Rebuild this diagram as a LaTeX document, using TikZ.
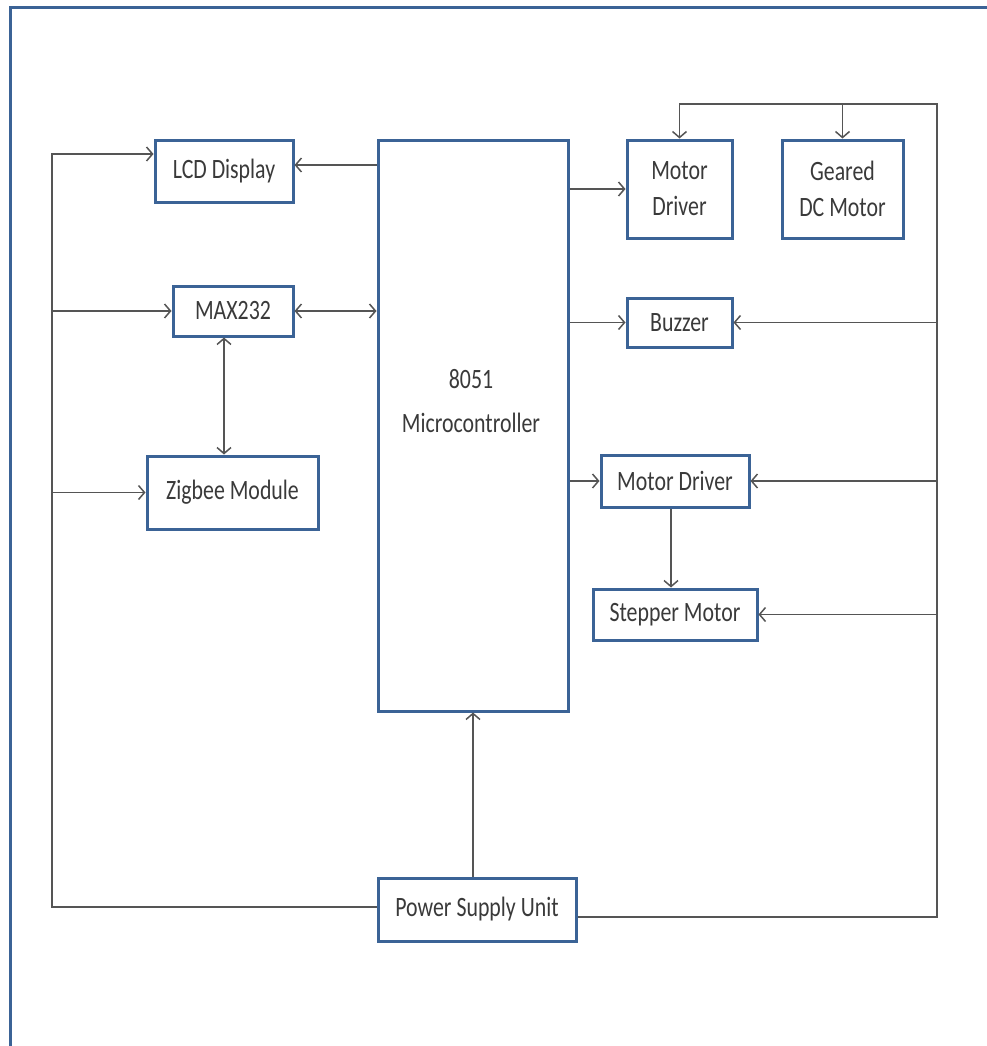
\documentclass[tikz,border=0pt]{standalone}
\usepackage{fontspec}
\setmainfont{Carlito}[FakeStretch=0.78]
\usetikzlibrary{arrows.meta}
\definecolor{boxblue}{HTML}{3B6396}
\definecolor{wiregray}{HTML}{555555}
\definecolor{txtgray}{HTML}{3A3A3A}
\begin{document}
\begin{tikzpicture}[x=1pt,y=-1pt,
  blk/.style={draw=boxblue,line width=3pt,fill=white,text=txtgray,inner sep=0pt,
    align=center,font=\fontsize{28}{30}\selectfont},
  wire/.style={draw=wiregray,line width=1.5pt},
  >={Straight Barb[length=6pt,width=14pt]}]
  \useasboundingbox (0,0) rectangle (987,1046);
  \draw[boxblue,line width=3pt] (10,1060) -- (10,8) -- (1000,8);

  % blocks
  \node[blk,minimum width=190pt,minimum height=571pt] (micro) at (473,425.5) {};
  \node[text=txtgray,align=center,font=\fontsize{28}{30}\selectfont] (mclabel) at (471,401) {8051\\[14pt]Microcontroller};
  \node[blk,minimum width=138pt,minimum height=62pt] (lcd) at (224,171) {LCD Display};
  \node[blk,minimum width=120pt,minimum height=50pt] (max) at (233,311) {MAX232};
  \node[blk,minimum width=171pt,minimum height=73pt] (zig) at (232.5,492.5) {Zigbee Module};
  \node[blk,minimum width=105pt,minimum height=98pt] (mdone) at (679.5,189) {Motor\\[6pt]Driver};
  \node[blk,minimum width=121pt,minimum height=98pt] (dcm) at (842.5,189) {Geared\\[6pt]DC Motor};
  \node[blk,minimum width=105pt,minimum height=49pt] (buz) at (679.5,322.5) {Buzzer};
  \node[blk,minimum width=148pt,minimum height=52pt] (mdtwo) at (675,481) {Motor Driver};
  \node[blk,minimum width=164pt,minimum height=51pt] (step) at (675,614.5) {Stepper Motor};
  \node[blk,minimum width=198pt,minimum height=63pt] (psu) at (477,909.5) {Power Supply Unit};

  % supply rails
  \coordinate (lbot) at (52,907);
  \coordinate (ltop) at (52,154);
  \coordinate (rbot) at (937,917);
  \coordinate (rtop) at (937,104);
  \draw[wire,->] (psu.west |- lbot) -- (lbot) -- (ltop) -- (lcd.west |- ltop);
  \draw[wire,->] (lbot |- max.west) -- (max.west);
  \draw[wire,->] (lbot |- zig.west) -- (zig.west);
  \draw[wire,->] (psu.east |- rbot) -- (rbot) -- (rtop) -- (mdone.north |- rtop) -- (mdone.north);
  \draw[wire,->] (dcm.north |- rtop) -- (dcm.north);
  \draw[wire,->] (rbot |- buz.east) -- (buz.east);
  \draw[wire,->] (rbot |- mdtwo.east) -- (mdtwo.east);
  \draw[wire,->] (rbot |- step.east) -- (step.east);
  \draw[wire,->] (psu.north -| micro.south) -- (micro.south);

  % signals
  \draw[wire,->] ([yshift=6pt]micro.west |- lcd.east) -- ([yshift=6pt]lcd.east);
  \draw[wire,<->] (max.east) -- (micro.west |- max.east);
  \draw[wire,<->] ([xshift=-9pt]max.south) -- ([xshift=-9pt]max.south |- zig.north);
  \draw[wire,->] (micro.east |- mdone.west) -- (mdone.west);
  \draw[wire,->] (micro.east |- buz.west) -- (buz.west);
  \draw[wire,->] (micro.east |- mdtwo.west) -- (mdtwo.west);
  \draw[wire,->] ([xshift=-4pt]mdtwo.south) -- ([xshift=-4pt]step.north);
\end{tikzpicture}
\end{document}
